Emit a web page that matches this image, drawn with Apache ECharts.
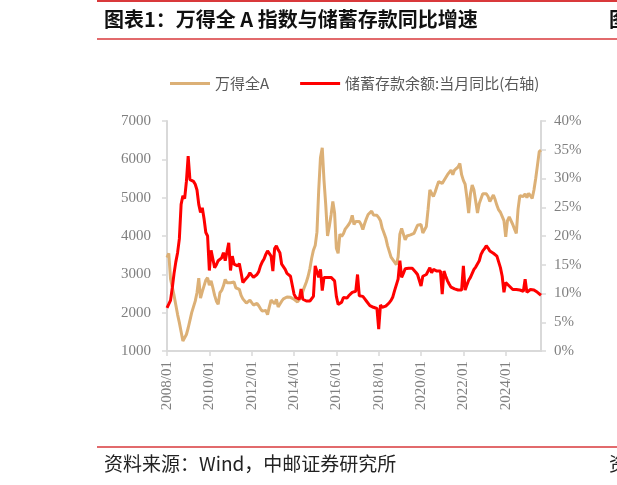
<!DOCTYPE html>
<html>
<head>
<meta charset="utf-8">
<script src="https://cdn.jsdelivr.net/npm/echarts@6/dist/echarts.min.js"></script>
<style>
  html, body { margin: 0; padding: 0; background: #fff; }
  #main { width: 617px; height: 485px; }
</style>
</head>
<body>
<div id="main"></div>
<script>
// 万得全A 指数（月度，左轴）
const windA = [
  3435, 3550, 2880, 2900, 2450, 2200, 1950, 1740, 1500, 1260, 1300, 1430,
  1600, 1800, 2000, 2150, 2300, 2520, 2900, 2380, 2550, 2700, 2850, 2910,
  2720, 2830, 2650, 2450, 2300, 2220, 2520, 2580, 2700, 2870, 2780, 2740,
  2780, 2830, 2800, 2650, 2700, 2610, 2450, 2360, 2380, 2250, 2200, 2330,
  2300, 2200, 2200, 2240, 2180, 2100, 2040, 2080, 2060, 1950, 2150, 2330,
  2300, 2230, 2350, 2150, 2150, 2300, 2360, 2380, 2410, 2430, 2400, 2360,
  2350, 2320, 2280, 2330, 2400, 2550, 2680, 2800, 2950, 3150, 3420, 3630,
  3750, 4100, 5200, 6050, 6300, 5450, 4800, 4000, 4250, 4550, 4900, 4600,
  3680, 3550, 4050, 3990, 4060, 4180, 4240, 4300, 4380, 4540, 4300, 4380,
  4420, 4380, 4300, 4170, 4320, 4450, 4560, 4600, 4650, 4550, 4600, 4540,
  4480, 4400, 4200, 4080, 3950, 3750, 3600, 3450, 3400, 3320, 3250, 3450,
  4050, 4200, 4050, 3900, 4000, 3980, 4030, 4020, 4070, 4050, 4280, 4330,
  4300, 4080, 4100, 4250, 4700, 5200, 5250, 5030, 5150, 5290, 5420, 5380,
  5370, 5450, 5420, 5600, 5650, 5720, 5600, 5720, 5680, 5800, 5890, 5600,
  5450, 5350, 5000, 4600, 5100, 5330, 5200, 4900, 4600, 4850, 4800, 5100,
  5150, 5100, 5030, 4900, 4950, 5070, 4950, 4800, 4680, 4620, 4580, 4400,
  3980, 4400, 4500, 4450, 4300, 4180, 4070, 4700, 5050, 5100, 5030, 5100,
  5000, 5110, 5050, 4980, 5200, 5500, 5850, 6200, 6240
];

// 储蓄存款余额：当月同比（%，右轴）
const depositYoY = [
  7.5, 7.8, 8.8, 11.0, 13.5, 15.5, 17.1, 19.5, 25.5, 27.0, 26.5, 29.5,
  33.9, 29.8, 29.9, 29.5, 29.0, 28.0, 25.5, 24.1, 24.9, 23.0, 20.6, 20.0,
  14.0, 17.5, 16.0, 14.5, 15.0, 15.7, 15.8, 16.2, 17.1, 15.7, 15.8, 18.8,
  14.0, 16.5, 15.1, 15.2, 14.8, 15.2, 13.6, 11.9, 12.3, 12.5, 13.0, 13.6,
  13.2, 12.8, 12.8, 13.3, 13.8, 14.8, 15.5, 16.0, 16.8, 17.4, 17.6, 16.5,
  13.9, 17.8, 18.3, 17.6, 17.1, 15.1, 14.8, 14.2, 13.5, 13.2, 13.0, 12.7,
  9.9, 9.3, 9.0, 9.0, 10.8, 9.0, 8.7, 8.7, 8.6, 8.7, 8.5, 9.5,
  14.8, 13.8, 12.8, 14.2, 10.5, 12.8, 12.5, 12.8, 12.7, 12.8, 12.8, 12.2,
  9.5, 8.1, 8.0, 8.5, 9.3, 9.0, 9.2, 9.6, 9.9, 10.2, 10.1, 10.4,
  13.3, 9.6, 9.7, 9.5, 9.1, 8.7, 8.4, 7.9, 7.7, 7.6, 7.5, 7.4,
  3.8, 8.0, 7.6, 7.7, 7.8, 8.0, 8.4, 8.8, 9.4, 10.5, 11.5, 12.5,
  15.7, 12.8, 13.5, 14.3, 14.5, 14.4, 14.5, 14.4, 14.2, 13.7, 13.3, 13.2,
  11.3, 13.0, 13.1, 13.3, 13.4, 14.5, 13.6, 14.2, 14.0, 13.9, 14.0, 13.9,
  9.9, 13.9, 13.0, 12.2, 11.6, 11.1, 10.9, 10.8, 10.7, 10.6, 10.6, 10.6,
  14.8, 10.6, 11.5, 12.3, 12.8, 13.5, 14.2, 14.6, 14.8, 15.7, 16.8, 17.4,
  17.8, 18.3, 17.9, 17.4, 17.2, 17.0, 16.8, 16.5, 16.3, 14.5, 13.0, 10.2,
  11.9, 11.6, 11.3, 11.0, 10.7, 10.9, 10.7, 10.6, 10.6, 10.6, 10.4, 12.5,
  10.2, 10.4, 10.7, 10.7, 10.6, 10.4, 10.2, 9.9, 9.7
];

// 月份类目：2008/01 起
const months = [];
for (let i = 0; i < windA.length; i++) {
  const y = 2008 + Math.floor(i / 12);
  const m = (i % 12) + 1;
  months.push(y + "/" + (m < 10 ? "0" + m : m));
}

const seriesNames = ["万得全A", "储蓄存款余额:当月同比(右轴)"];
const leftTicks = [1000, 7000, 1000];   // min, max, interval
const rightTicks = [0, 40, 5];

const axisGray = "#d9d9d9";
const labelGray = "#808080";
const serif = "Liberation Serif";
const cjk = "Noto Sans CJK SC";
const redLine = "#d9393b";

const chart = echarts.init(document.getElementById("main"));
chart.setOption({
  animation: false,
  grid: { left: 167, right: 76, top: 121, bottom: 134 },
  legend: {
    left: 165,
    top: 71,
    icon: "rect",
    itemWidth: 40,
    itemHeight: 3,
    itemGap: 31,
    textStyle: { fontSize: 15, color: "#595959", fontFamily: cjk },
    data: seriesNames
  },
  xAxis: {
    type: "category",
    data: months,
    boundaryGap: false,
    axisLine: { lineStyle: { color: axisGray, width: 2 } },
    axisTick: {
      interval: (i) => i % 24 === 0,
      length: 5,
      lineStyle: { color: axisGray, width: 1.5 }
    },
    axisLabel: {
      interval: (i) => i % 24 === 0,
      rotate: 90,
      margin: 10,
      color: labelGray,
      fontSize: 15,
      fontFamily: serif
    },
    splitLine: { show: false }
  },
  yAxis: [
    {
      type: "value",
      min: leftTicks[0],
      max: leftTicks[1],
      interval: leftTicks[2],
      axisLine: { show: true, lineStyle: { color: axisGray, width: 2 } },
      axisTick: { show: true, length: 5, lineStyle: { color: axisGray, width: 1.5 } },
      axisLabel: {
        margin: 16,
        formatter: (v) => String(v),
        color: labelGray,
        fontSize: 15,
        fontFamily: serif
      },
      splitLine: { show: false }
    },
    {
      type: "value",
      min: rightTicks[0],
      max: rightTicks[1],
      interval: rightTicks[2],
      axisLine: { show: true, lineStyle: { color: axisGray, width: 2 } },
      axisTick: { show: true, length: 5, lineStyle: { color: axisGray, width: 1.5 } },
      axisLabel: {
        margin: 13,
        formatter: "{value}%",
        color: labelGray,
        fontSize: 15,
        fontFamily: serif
      },
      splitLine: { show: false }
    }
  ],
  series: [
    {
      name: seriesNames[0],
      type: "line",
      data: windA,
      yAxisIndex: 0,
      showSymbol: false,
      lineStyle: { color: "#dcb076", width: 3 },
      itemStyle: { color: "#dcb076" },
      z: 2
    },
    {
      name: seriesNames[1],
      type: "line",
      data: depositYoY,
      yAxisIndex: 1,
      showSymbol: false,
      lineStyle: { color: "#ff0000", width: 3 },
      itemStyle: { color: "#ff0000" },
      z: 3
    }
  ],
  graphic: [
    { type: "line", shape: { x1: 97, y1: 1, x2: 617, y2: 1 }, style: { stroke: redLine, lineWidth: 2 } },
    {
      type: "text", left: 104, top: 9,
      style: { text: "图表1：万得全 A 指数与储蓄存款同比增速", fontSize: 20, fontWeight: "bold", fontFamily: cjk, fill: "#111" }
    },
    {
      type: "text", left: 609, top: 9,
      style: { text: "图表", fontSize: 20, fontWeight: "bold", fontFamily: cjk, fill: "#111" }
    },
    { type: "line", shape: { x1: 97, y1: 39, x2: 617, y2: 39 }, style: { stroke: redLine, lineWidth: 1.5 } },
    { type: "line", shape: { x1: 97, y1: 447, x2: 617, y2: 447 }, style: { stroke: redLine, lineWidth: 1.5 } },
    {
      type: "text", left: 104, top: 454,
      style: { text: "资料来源：Wind，中邮证券研究所", fontSize: 19, fontFamily: cjk, fill: "#222" }
    },
    {
      type: "text", left: 609, top: 454,
      style: { text: "资料", fontSize: 19, fontFamily: cjk, fill: "#222" }
    }
  ]
});
</script>
</body>
</html>
